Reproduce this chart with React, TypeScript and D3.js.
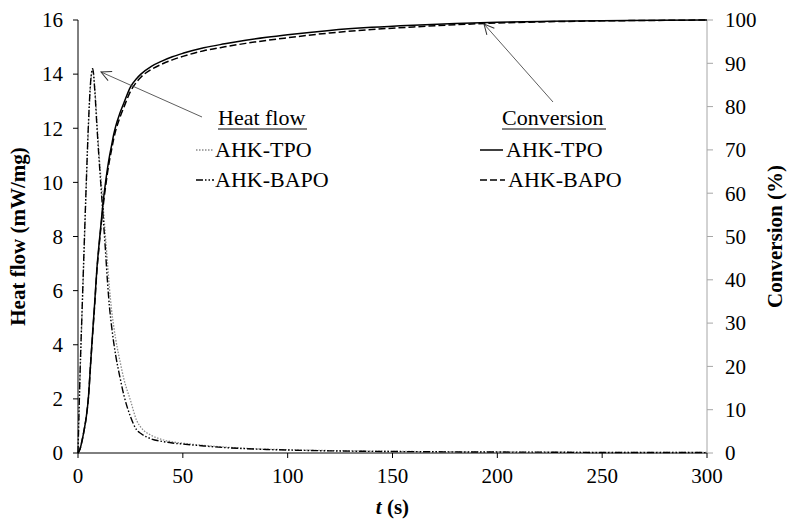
import React from 'react';
import * as d3 from 'd3';

// time (s)
const time = [0, 1, 2, 3, 4, 5, 6, 7, 8, 9, 10, 11, 12, 13, 14, 15, 16, 17, 18, 20, 22, 25, 28, 30, 35, 40, 45, 50, 60, 70, 80, 90, 100, 120, 140, 160, 180, 200, 225, 250, 275, 300];

// heat flow (mW/mg)
const heatTPO = [0, 2.9, 5.3, 7.6, 10.0, 12.1, 13.6, 14.2, 13.5, 12.3, 11.1, 10.1, 9.1, 8.1, 7.1, 6.1, 5.3, 4.7, 4.2, 3.4, 2.7, 1.95, 1.2, 0.95, 0.65, 0.5, 0.41, 0.36, 0.28, 0.22, 0.17, 0.14, 0.12, 0.09, 0.07, 0.055, 0.045, 0.04, 0.03, 0.025, 0.02, 0.02];
const heatBAPO = [0, 3.0, 5.4, 7.8, 10.1, 12.2, 13.7, 14.2, 13.4, 12.1, 10.9, 9.8, 8.7, 7.6, 6.4, 5.4, 4.7, 4.1, 3.6, 2.8, 2.1, 1.35, 0.85, 0.72, 0.52, 0.43, 0.37, 0.33, 0.26, 0.2, 0.16, 0.13, 0.11, 0.08, 0.06, 0.05, 0.04, 0.035, 0.03, 0.02, 0.02, 0.015];

// conversion (%)
const convTPO = [0, 1, 3, 5.5, 8.5, 13, 20.5, 28, 35, 42.5, 48, 53, 58, 62, 65.5, 68.5, 71, 73.5, 75.5, 78.5, 81, 84.5, 86.5, 87.5, 89.3, 90.5, 91.5, 92.3, 93.6, 94.5, 95.3, 96, 96.6, 97.6, 98.3, 98.8, 99.2, 99.5, 99.7, 99.85, 99.95, 100];
const convBAPO = [0, 1, 3, 5.5, 8.5, 13, 20.5, 27.5, 34.5, 42, 47.5, 52.5, 57, 61, 64.5, 67.5, 70, 72.5, 74.5, 77.5, 80, 83.5, 85.7, 86.8, 88.6, 89.8, 90.8, 91.6, 92.9, 93.8, 94.6, 95.3, 95.9, 97, 97.8, 98.4, 98.9, 99.3, 99.6, 99.8, 99.9, 100];

const xTicks = [0, 50, 100, 150, 200, 250, 300];
const yLeftTicks = [0, 2, 4, 6, 8, 10, 12, 14, 16];
const yRightTicks = [0, 10, 20, 30, 40, 50, 60, 70, 80, 90, 100];

const W = 787;
const H = 519;
const left = 78;
const right = 707;
const top = 20;
const bottom = 453;
const FONT = "'Times New Roman', 'Liberation Serif', Times, serif";

const x = d3.scaleLinear().domain([0, 300]).range([left, right]);
const yL = d3.scaleLinear().domain([0, 16]).range([bottom, top]);
const yR = d3.scaleLinear().domain([0, 100]).range([bottom, top]);

const lineL = d3.line<number>().x((_, i) => x(time[i])).y(d => yL(d)).curve(d3.curveMonotoneX);
const lineR = d3.line<number>().x((_, i) => x(time[i])).y(d => yR(d)).curve(d3.curveMonotoneX);

const heatTpoStyle = { stroke: '#8a8a8a', strokeWidth: 1.3, strokeDasharray: '1.5,1.5' };
const heatBapoStyle = { stroke: '#000', strokeWidth: 1.4, strokeDasharray: '7,2,1.5,2,1.5,2' };
const convTpoStyle = { stroke: '#000', strokeWidth: 1.5 };
const convBapoStyle = { stroke: '#000', strokeWidth: 1.5, strokeDasharray: '7,3' };

const App = () => {
  return (
    <svg width={W} height={H} style={{ position: 'absolute', left: 0, top: 0, background: '#fff', fontFamily: FONT }}>
      <defs>
        <marker id="arr" markerWidth="12" markerHeight="12" refX="11" refY="6" orient="auto" markerUnits="userSpaceOnUse">
          <path d="M1,1 L11,6 L1,11" fill="none" stroke="#333" strokeWidth="1" />
        </marker>
      </defs>

      {/* left axis */}
      <line x1={left} x2={left} y1={top} y2={bottom} stroke="#000" />
      {yLeftTicks.map(t => (
        <g key={'l' + t}>
          <line x1={left - 5} x2={left} y1={yL(t)} y2={yL(t)} stroke="#000" />
          <text x={left - 15} y={yL(t)} dy="0.35em" textAnchor="end" fontSize={21}>{t}</text>
        </g>
      ))}

      {/* right axis */}
      <line x1={right} x2={right} y1={top} y2={bottom} stroke="#a6a6a6" />
      {yRightTicks.map(t => (
        <g key={'r' + t}>
          <line x1={right} x2={right + 6} y1={yR(t)} y2={yR(t)} stroke="#a6a6a6" />
          <text x={right + 18} y={yR(t)} dy="0.35em" textAnchor="start" fontSize={21}>{t}</text>
        </g>
      ))}

      {/* bottom axis */}
      <line x1={left} x2={right} y1={bottom} y2={bottom} stroke="#000" />
      {xTicks.map(t => (
        <g key={'x' + t}>
          <line x1={x(t)} x2={x(t)} y1={bottom} y2={bottom + 5} stroke="#000" />
          <text x={x(t)} y={bottom + 30} textAnchor="middle" fontSize={21}>{t}</text>
        </g>
      ))}

      {/* axis titles */}
      <text transform={`translate(25,${(top + bottom) / 2}) rotate(-90)`} textAnchor="middle" fontSize={21} fontWeight="bold">Heat flow (mW/mg)</text>
      <text transform={`translate(782,${(top + bottom) / 2}) rotate(-90)`} textAnchor="middle" fontSize={21} fontWeight="bold">Conversion (%)</text>
      <text x={(left + right) / 2} y={514} textAnchor="middle" fontSize={21} fontWeight="bold">
        <tspan fontStyle="italic">t</tspan> (s)
      </text>

      {/* series */}
      <path d={lineL(heatTPO) || ''} fill="none" {...heatTpoStyle} />
      <path d={lineL(heatBAPO) || ''} fill="none" {...heatBapoStyle} />
      <path d={lineR(convBAPO) || ''} fill="none" {...convBapoStyle} />
      <path d={lineR(convTPO) || ''} fill="none" {...convTpoStyle} />

      {/* annotation arrows */}
      <line x1={202} y1={117} x2={101} y2={72} stroke="#333" strokeWidth={0.8} markerEnd="url(#arr)" />
      <line x1={553} y1={102} x2={484} y2={24} stroke="#333" strokeWidth={0.8} markerEnd="url(#arr)" />

      {/* legend: heat flow */}
      <text x={218} y={125} fontSize={22}>Heat flow</text>
      <line x1={218} x2={307} y1={129} y2={129} stroke="#000" strokeWidth={1} />
      <line x1={196} x2={214} y1={150} y2={150} fill="none" {...heatTpoStyle} />
      <text x={215} y={157} fontSize={22}>AHK-TPO</text>
      <line x1={196} x2={214} y1={180} y2={180} fill="none" {...heatBapoStyle} />
      <text x={215} y={187} fontSize={22}>AHK-BAPO</text>

      {/* legend: conversion */}
      <text x={502} y={125} fontSize={22}>Conversion</text>
      <line x1={502} x2={606} y1={129} y2={129} stroke="#000" strokeWidth={1} />
      <line x1={480} x2={503} y1={150} y2={150} {...convTpoStyle} />
      <text x={506} y={157} fontSize={22}>AHK-TPO</text>
      <line x1={480} x2={505} y1={180} y2={180} {...convBapoStyle} />
      <text x={508} y={187} fontSize={22}>AHK-BAPO</text>
    </svg>
  );
};

export default App;
